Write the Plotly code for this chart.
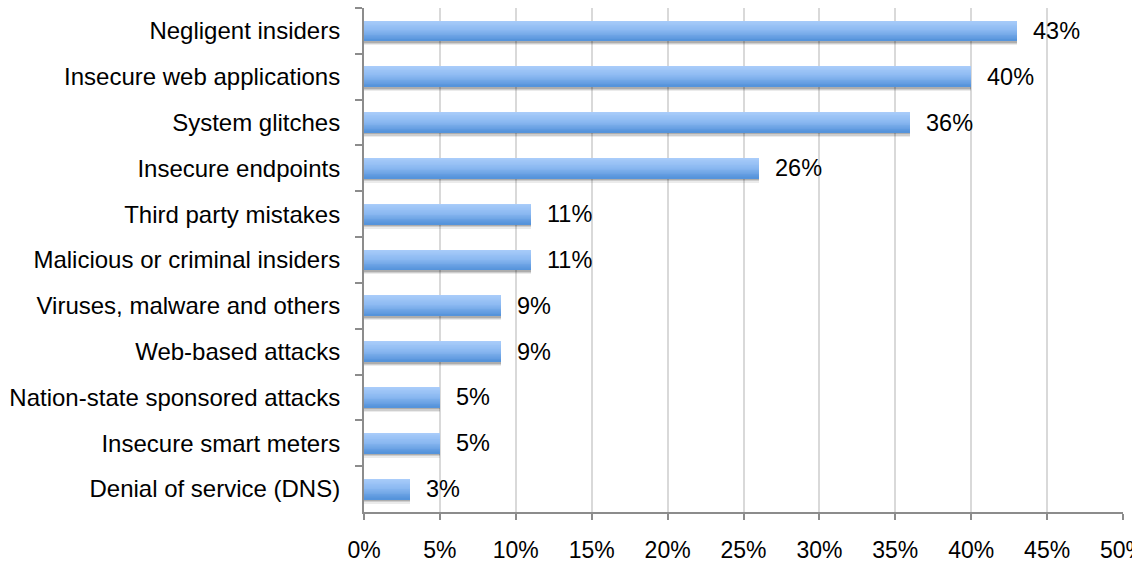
import plotly.graph_objects as go

# Share of respondents citing each root cause
categories = [
    "Negligent insiders",
    "Insecure web applications",
    "System glitches",
    "Insecure endpoints",
    "Third party mistakes",
    "Malicious or criminal insiders",
    "Viruses, malware and others",
    "Web-based attacks",
    "Nation-state sponsored attacks",
    "Insecure smart meters",
    "Denial of service (DNS)",
]
values = [43, 40, 36, 26, 11, 11, 9, 9, 5, 5, 3]
x_ticks = [0, 5, 10, 15, 20, 25, 30, 35, 40, 45, 50]
x_tick_labels = [f"{t}%" for t in x_ticks]

FONT = "Liberation Sans, Arial, Helvetica, sans-serif"
BAR_H = 0.43          # bar thickness in category units
N_STRIPS = 24         # strips used to build the vertical gradient
TOP_RGB = (170, 205, 250)
MID_RGB = (138, 184, 241)
BOT_RGB = (84, 146, 218)


def lerp(a, b, t):
    return tuple(round(a[k] + (b[k] - a[k]) * t) for k in range(3))


def grad_color(t):
    if t < 0.5:
        c = lerp(TOP_RGB, MID_RGB, t / 0.5)
    else:
        c = lerp(MID_RGB, BOT_RGB, (t - 0.5) / 0.5)
    return "rgb(%d,%d,%d)" % c


fig = go.Figure()

# soft drop shadow under each bar
for dy, alpha in [(0.10, 0.08), (0.07, 0.12), (0.045, 0.16)]:
    fig.add_trace(go.Bar(
        x=values, y=categories, orientation="h",
        width=BAR_H, offset=-BAR_H / 2 + dy,
        marker=dict(color="rgba(0,0,0,%.2f)" % alpha, line=dict(width=0)),
        hoverinfo="skip", showlegend=False,
    ))

# gradient bars, light on top to darker at the bottom
step = BAR_H / N_STRIPS
for i in range(N_STRIPS):
    t = (i + 0.5) / N_STRIPS
    fig.add_trace(go.Bar(
        x=values, y=categories, orientation="h",
        width=step * 1.15, offset=-BAR_H / 2 + i * step,
        marker=dict(color=grad_color(t), line=dict(width=0)),
        hoverinfo="skip", showlegend=False,
    ))

for cat, v in zip(categories, values):
    fig.add_annotation(
        x=v, y=cat, text=f"{v}%", showarrow=False,
        xanchor="left", yanchor="middle", xshift=14,
        font=dict(family=FONT, size=23.5, color="#000000"),
    )

fig.update_layout(
    barmode="overlay",
    width=1132, height=562,
    margin=dict(l=364, r=9, t=8, b=50),
    paper_bgcolor="white", plot_bgcolor="white",
    font=dict(family=FONT, size=23.5, color="#000000"),
    showlegend=False,
    bargap=0,
)
fig.update_xaxes(
    range=[0, 50], tickmode="array", tickvals=x_ticks, ticktext=x_tick_labels,
    tickfont=dict(family=FONT, size=23, color="#000000"),
    showgrid=True, gridcolor="#d9d9d9", gridwidth=2,
    showline=True, linecolor="#8c8c8c", linewidth=2,
    ticks="outside", ticklen=6, tickwidth=2, tickcolor="#8c8c8c",
    ticklabelstandoff=10, ticklabeloverflow="allow",
    zeroline=False, automargin=False,
)
fig.update_yaxes(
    autorange="reversed", tickson="boundaries",
    tickfont=dict(family=FONT, size=24, color="#000000"),
    showgrid=False,
    showline=True, linecolor="#8c8c8c", linewidth=2,
    ticks="outside", ticklen=7, tickwidth=2, tickcolor="#8c8c8c",
    ticklabelstandoff=17, automargin=False,
)

fig.write_html("out.html")
